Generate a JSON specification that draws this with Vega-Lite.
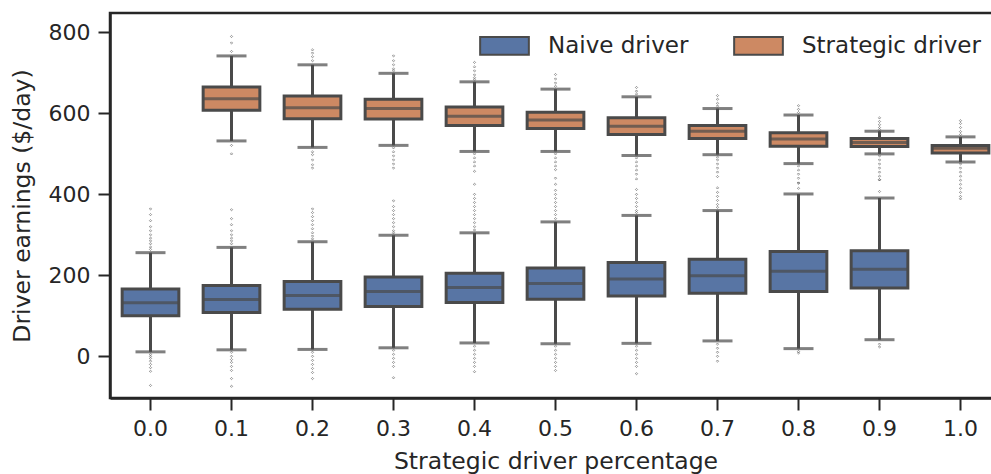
{
  "$schema": "https://vega.github.io/schema/vega-lite/v6.json",
  "width": 891,
  "height": 385,
  "autosize": {"type": "none"},
  "padding": {"left": 110, "top": 13, "right": 0, "bottom": 76},
  "background": "white",
  "config": {
    "font": "DejaVu Sans",
    "view": {"stroke": "#262626", "strokeWidth": 2.5},
    "axis": {
      "domainColor": "#262626", "domainWidth": 2.5,
      "tickColor": "#262626", "tickWidth": 2, "tickSize": 12,
      "labelColor": "#262626", "labelFont": "DejaVu Sans", "labelFontSize": 22,
      "titleColor": "#262626", "titleFont": "DejaVu Sans", "titleFontSize": 23.5, "titleFontWeight": "normal",
      "grid": false
    },
    "legend": {
      "labelFont": "DejaVu Sans", "labelFontSize": 23, "labelColor": "#262626", "labelLimit": 400
    }
  },
  "datasets": {
    "boxes": [
      {"pct": "0.0", "group": "Naive driver", "lo": 11, "q1": 100, "med": 132, "q3": 166, "hi": 256},
      {"pct": "0.1", "group": "Naive driver", "lo": 16, "q1": 108, "med": 140, "q3": 175, "hi": 269},
      {"pct": "0.2", "group": "Naive driver", "lo": 17, "q1": 116, "med": 150, "q3": 185, "hi": 283},
      {"pct": "0.3", "group": "Naive driver", "lo": 21, "q1": 123, "med": 160, "q3": 196, "hi": 299},
      {"pct": "0.4", "group": "Naive driver", "lo": 33, "q1": 133, "med": 170, "q3": 205, "hi": 305},
      {"pct": "0.5", "group": "Naive driver", "lo": 31, "q1": 141, "med": 180, "q3": 218, "hi": 332},
      {"pct": "0.6", "group": "Naive driver", "lo": 32, "q1": 149, "med": 191, "q3": 232, "hi": 348},
      {"pct": "0.7", "group": "Naive driver", "lo": 38, "q1": 156, "med": 199, "q3": 240, "hi": 360},
      {"pct": "0.8", "group": "Naive driver", "lo": 19, "q1": 160, "med": 210, "q3": 259, "hi": 401},
      {"pct": "0.9", "group": "Naive driver", "lo": 41, "q1": 169, "med": 215, "q3": 261, "hi": 391},
      {"pct": "0.1", "group": "Strategic driver", "lo": 532, "q1": 608, "med": 636, "q3": 665, "hi": 742},
      {"pct": "0.2", "group": "Strategic driver", "lo": 516, "q1": 587, "med": 614, "q3": 643, "hi": 720},
      {"pct": "0.3", "group": "Strategic driver", "lo": 521, "q1": 586, "med": 612, "q3": 635, "hi": 699},
      {"pct": "0.4", "group": "Strategic driver", "lo": 506, "q1": 570, "med": 593, "q3": 616, "hi": 678},
      {"pct": "0.5", "group": "Strategic driver", "lo": 506, "q1": 563, "med": 584, "q3": 603, "hi": 660},
      {"pct": "0.6", "group": "Strategic driver", "lo": 496, "q1": 548, "med": 568, "q3": 589, "hi": 641},
      {"pct": "0.7", "group": "Strategic driver", "lo": 498, "q1": 538, "med": 556, "q3": 570, "hi": 612},
      {"pct": "0.8", "group": "Strategic driver", "lo": 476, "q1": 519, "med": 537, "q3": 552, "hi": 596},
      {"pct": "0.9", "group": "Strategic driver", "lo": 500, "q1": 518, "med": 528, "q3": 538, "hi": 556},
      {"pct": "1.0", "group": "Strategic driver", "lo": 480, "q1": 502, "med": 514, "q3": 521, "hi": 542}
    ],
    "fliers": [
      {"pct": "0.0", "v": 364}, {"pct": "0.0", "v": 350}, {"pct": "0.0", "v": 335}, {"pct": "0.0", "v": 320}, {"pct": "0.0", "v": 310}, {"pct": "0.0", "v": 300}, {"pct": "0.0", "v": 292}, {"pct": "0.0", "v": 285}, {"pct": "0.0", "v": 278}, {"pct": "0.0", "v": 270}, {"pct": "0.0", "v": 264},
      {"pct": "0.0", "v": 5}, {"pct": "0.0", "v": 0}, {"pct": "0.0", "v": -5}, {"pct": "0.0", "v": -12}, {"pct": "0.0", "v": -20}, {"pct": "0.0", "v": -28}, {"pct": "0.0", "v": -37}, {"pct": "0.0", "v": -72},
      {"pct": "0.1", "v": 362}, {"pct": "0.1", "v": 340}, {"pct": "0.1", "v": 325}, {"pct": "0.1", "v": 310}, {"pct": "0.1", "v": 300}, {"pct": "0.1", "v": 292}, {"pct": "0.1", "v": 285}, {"pct": "0.1", "v": 278},
      {"pct": "0.1", "v": 10}, {"pct": "0.1", "v": 0}, {"pct": "0.1", "v": -8}, {"pct": "0.1", "v": -15}, {"pct": "0.1", "v": -25}, {"pct": "0.1", "v": -35}, {"pct": "0.1", "v": -55}, {"pct": "0.1", "v": -74},
      {"pct": "0.2", "v": 364}, {"pct": "0.2", "v": 355}, {"pct": "0.2", "v": 345}, {"pct": "0.2", "v": 335}, {"pct": "0.2", "v": 325}, {"pct": "0.2", "v": 315}, {"pct": "0.2", "v": 305}, {"pct": "0.2", "v": 297}, {"pct": "0.2", "v": 290},
      {"pct": "0.2", "v": 10}, {"pct": "0.2", "v": 0}, {"pct": "0.2", "v": -10}, {"pct": "0.2", "v": -20}, {"pct": "0.2", "v": -30}, {"pct": "0.2", "v": -40}, {"pct": "0.2", "v": -55},
      {"pct": "0.3", "v": 384}, {"pct": "0.3", "v": 370}, {"pct": "0.3", "v": 360}, {"pct": "0.3", "v": 350}, {"pct": "0.3", "v": 340}, {"pct": "0.3", "v": 330}, {"pct": "0.3", "v": 320}, {"pct": "0.3", "v": 310}, {"pct": "0.3", "v": 305},
      {"pct": "0.3", "v": 15}, {"pct": "0.3", "v": 5}, {"pct": "0.3", "v": -5}, {"pct": "0.3", "v": -15}, {"pct": "0.3", "v": -25}, {"pct": "0.3", "v": -53},
      {"pct": "0.4", "v": 425}, {"pct": "0.4", "v": 400}, {"pct": "0.4", "v": 390}, {"pct": "0.4", "v": 380}, {"pct": "0.4", "v": 370}, {"pct": "0.4", "v": 360}, {"pct": "0.4", "v": 350}, {"pct": "0.4", "v": 340}, {"pct": "0.4", "v": 330}, {"pct": "0.4", "v": 320}, {"pct": "0.4", "v": 312},
      {"pct": "0.4", "v": 25}, {"pct": "0.4", "v": 15}, {"pct": "0.4", "v": 5}, {"pct": "0.4", "v": -5}, {"pct": "0.4", "v": -15}, {"pct": "0.4", "v": -25}, {"pct": "0.4", "v": -38},
      {"pct": "0.5", "v": 440}, {"pct": "0.5", "v": 425}, {"pct": "0.5", "v": 410}, {"pct": "0.5", "v": 400}, {"pct": "0.5", "v": 390}, {"pct": "0.5", "v": 380}, {"pct": "0.5", "v": 370}, {"pct": "0.5", "v": 360}, {"pct": "0.5", "v": 350}, {"pct": "0.5", "v": 340},
      {"pct": "0.5", "v": 25}, {"pct": "0.5", "v": 15}, {"pct": "0.5", "v": 5}, {"pct": "0.5", "v": -5}, {"pct": "0.5", "v": -15}, {"pct": "0.5", "v": -25}, {"pct": "0.5", "v": -35},
      {"pct": "0.6", "v": 412}, {"pct": "0.6", "v": 400}, {"pct": "0.6", "v": 390}, {"pct": "0.6", "v": 380}, {"pct": "0.6", "v": 370}, {"pct": "0.6", "v": 360}, {"pct": "0.6", "v": 355},
      {"pct": "0.6", "v": 25}, {"pct": "0.6", "v": 15}, {"pct": "0.6", "v": 5}, {"pct": "0.6", "v": -5}, {"pct": "0.6", "v": -15}, {"pct": "0.6", "v": -25}, {"pct": "0.6", "v": -43},
      {"pct": "0.7", "v": 416}, {"pct": "0.7", "v": 405}, {"pct": "0.7", "v": 395}, {"pct": "0.7", "v": 385}, {"pct": "0.7", "v": 375}, {"pct": "0.7", "v": 368},
      {"pct": "0.7", "v": 30}, {"pct": "0.7", "v": 20}, {"pct": "0.7", "v": 10}, {"pct": "0.7", "v": 0}, {"pct": "0.7", "v": -12},
      {"pct": "0.8", "v": 428}, {"pct": "0.8", "v": 415}, {"pct": "0.8", "v": 12}, {"pct": "0.8", "v": 8},
      {"pct": "0.9", "v": 436}, {"pct": "0.9", "v": 407}, {"pct": "0.9", "v": 30}, {"pct": "0.9", "v": 23},
      {"pct": "0.1", "v": 790}, {"pct": "0.1", "v": 774}, {"pct": "0.1", "v": 753}, {"pct": "0.1", "v": 521}, {"pct": "0.1", "v": 500},
      {"pct": "0.2", "v": 757}, {"pct": "0.2", "v": 749}, {"pct": "0.2", "v": 740}, {"pct": "0.2", "v": 730}, {"pct": "0.2", "v": 505}, {"pct": "0.2", "v": 498}, {"pct": "0.2", "v": 485}, {"pct": "0.2", "v": 473}, {"pct": "0.2", "v": 465},
      {"pct": "0.3", "v": 742}, {"pct": "0.3", "v": 730}, {"pct": "0.3", "v": 720}, {"pct": "0.3", "v": 710}, {"pct": "0.3", "v": 705}, {"pct": "0.3", "v": 515}, {"pct": "0.3", "v": 505}, {"pct": "0.3", "v": 495}, {"pct": "0.3", "v": 485}, {"pct": "0.3", "v": 475}, {"pct": "0.3", "v": 465},
      {"pct": "0.4", "v": 726}, {"pct": "0.4", "v": 715}, {"pct": "0.4", "v": 705}, {"pct": "0.4", "v": 695}, {"pct": "0.4", "v": 688}, {"pct": "0.4", "v": 683}, {"pct": "0.4", "v": 500}, {"pct": "0.4", "v": 490}, {"pct": "0.4", "v": 480}, {"pct": "0.4", "v": 470}, {"pct": "0.4", "v": 457},
      {"pct": "0.5", "v": 696}, {"pct": "0.5", "v": 685}, {"pct": "0.5", "v": 675}, {"pct": "0.5", "v": 667}, {"pct": "0.5", "v": 500}, {"pct": "0.5", "v": 490}, {"pct": "0.5", "v": 480}, {"pct": "0.5", "v": 470}, {"pct": "0.5", "v": 461},
      {"pct": "0.6", "v": 664}, {"pct": "0.6", "v": 655}, {"pct": "0.6", "v": 648}, {"pct": "0.6", "v": 490}, {"pct": "0.6", "v": 480}, {"pct": "0.6", "v": 470}, {"pct": "0.6", "v": 460}, {"pct": "0.6", "v": 450}, {"pct": "0.6", "v": 438},
      {"pct": "0.7", "v": 644}, {"pct": "0.7", "v": 635}, {"pct": "0.7", "v": 625}, {"pct": "0.7", "v": 618}, {"pct": "0.7", "v": 492}, {"pct": "0.7", "v": 485}, {"pct": "0.7", "v": 475}, {"pct": "0.7", "v": 465}, {"pct": "0.7", "v": 455}, {"pct": "0.7", "v": 444},
      {"pct": "0.8", "v": 619}, {"pct": "0.8", "v": 610}, {"pct": "0.8", "v": 602}, {"pct": "0.8", "v": 470}, {"pct": "0.8", "v": 460}, {"pct": "0.8", "v": 450}, {"pct": "0.8", "v": 440}, {"pct": "0.8", "v": 428},
      {"pct": "0.9", "v": 589}, {"pct": "0.9", "v": 580}, {"pct": "0.9", "v": 572}, {"pct": "0.9", "v": 565}, {"pct": "0.9", "v": 560}, {"pct": "0.9", "v": 495}, {"pct": "0.9", "v": 485}, {"pct": "0.9", "v": 475}, {"pct": "0.9", "v": 465}, {"pct": "0.9", "v": 455}, {"pct": "0.9", "v": 445}, {"pct": "0.9", "v": 436},
      {"pct": "1.0", "v": 582}, {"pct": "1.0", "v": 575}, {"pct": "1.0", "v": 565}, {"pct": "1.0", "v": 555}, {"pct": "1.0", "v": 548}, {"pct": "1.0", "v": 475}, {"pct": "1.0", "v": 465}, {"pct": "1.0", "v": 455}, {"pct": "1.0", "v": 445}, {"pct": "1.0", "v": 435}, {"pct": "1.0", "v": 425}, {"pct": "1.0", "v": 415}, {"pct": "1.0", "v": 405}, {"pct": "1.0", "v": 395}, {"pct": "1.0", "v": 389}
    ]
  },
  "encoding": {
    "x": {
      "field": "pct", "type": "nominal",
      "sort": ["0.0", "0.1", "0.2", "0.3", "0.4", "0.5", "0.6", "0.7", "0.8", "0.9", "1.0"],
      "scale": {"domain": ["0.0", "0.1", "0.2", "0.3", "0.4", "0.5", "0.6", "0.7", "0.8", "0.9", "1.0"], "paddingInner": 0, "paddingOuter": 0},
      "axis": {"title": "Strategic driver percentage", "labelAngle": 0, "labelPadding": 8, "titlePadding": 10}
    }
  },
  "layer": [
    {
      "data": {"name": "boxes"},
      "mark": {"type": "rule", "color": "#4a4a4a", "strokeWidth": 3},
      "encoding": {
        "y": {"field": "lo", "type": "quantitative",
          "scale": {"domain": [-103, 848], "nice": false, "zero": false},
          "axis": {"title": "Driver earnings ($/day)", "values": [0, 200, 400, 600, 800], "labelPadding": 8, "titlePadding": 14}},
        "y2": {"field": "hi"}
      }
    },
    {
      "data": {"name": "boxes"},
      "mark": {"type": "tick", "color": "#4a4a4a", "thickness": 3, "size": 30},
      "encoding": {"y": {"field": "lo", "type": "quantitative"}}
    },
    {
      "data": {"name": "boxes"},
      "mark": {"type": "tick", "color": "#4a4a4a", "thickness": 3, "size": 30},
      "encoding": {"y": {"field": "hi", "type": "quantitative"}}
    },
    {
      "data": {"name": "boxes"},
      "mark": {"type": "bar", "width": {"band": 0.7}, "stroke": "#4a4a4a", "strokeWidth": 3, "opacity": 1},
      "encoding": {
        "y": {"field": "q1", "type": "quantitative"},
        "y2": {"field": "q3"},
        "fill": {
          "field": "group", "type": "nominal",
          "scale": {"domain": ["Naive driver", "Strategic driver"], "range": ["#5875a4", "#cd8963"]},
          "legend": {
            "title": null, "orient": "none", "direction": "horizontal",
            "legendX": 369, "legendY": 7, "padding": 0,
            "symbolType": "M-1,-0.36L1,-0.36L1,0.36L-1,0.36Z", "symbolSize": 2372,
            "symbolStrokeColor": "#4a4a4a", "symbolStrokeWidth": 2, "symbolOpacity": 1,
            "labelOffset": 18, "columnPadding": 41, "labelFontSize": 23, "labelLimit": 400
          }
        }
      }
    },
    {
      "data": {"name": "boxes"},
      "mark": {"type": "tick", "color": "#4a4a4a", "thickness": 3, "size": 57},
      "encoding": {"y": {"field": "med", "type": "quantitative"}}
    },
    {
      "data": {"name": "fliers"},
      "mark": {"type": "point", "shape": "diamond", "filled": false, "size": 5, "color": "#555555", "strokeWidth": 0.6, "opacity": 1},
      "encoding": {"y": {"field": "v", "type": "quantitative"}}
    }
  ]
}
